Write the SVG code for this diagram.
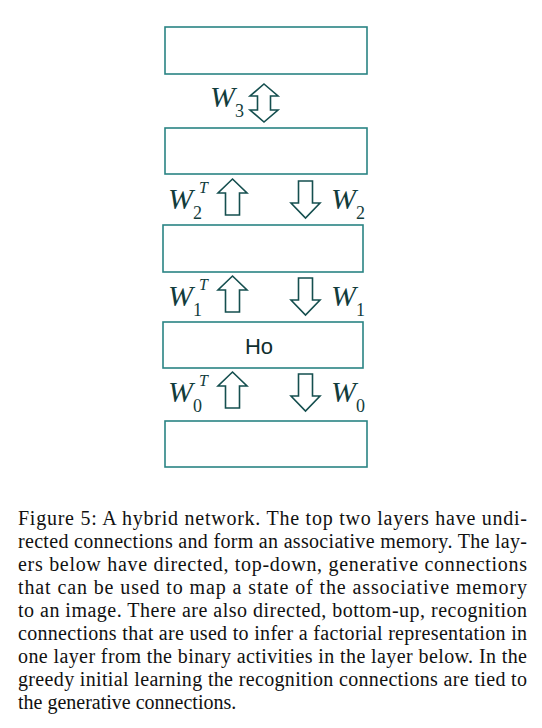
<svg xmlns="http://www.w3.org/2000/svg" width="542" height="728" viewBox="0 0 542 728">
<style>
.layer{fill:#fff;stroke:#2a8484;stroke-width:1.6}
.arr{fill:#fff;stroke:#154f4f;stroke-width:1.6;stroke-linejoin:miter}
.w{font-family:"Liberation Serif",serif;font-style:italic;font-size:30px;fill:#123c3c}
.sub{font-family:"Liberation Serif",serif;font-size:18px;fill:#123c3c}
.sup{font-family:"Liberation Serif",serif;font-style:italic;font-size:16px;fill:#123c3c}
.ho{font-family:"Liberation Sans",Arial,sans-serif;font-size:22px;fill:#0f2e2e}
.cap{font-family:"Liberation Serif",serif;font-size:20px;fill:#111}
</style>
<rect width="542" height="728" fill="#fff"/>
<g id="layer4"><rect class="layer" x="165" y="27" width="202" height="47"/></g>
<g id="layer3"><rect class="layer" x="165" y="128" width="202" height="46"/></g>
<g id="layer2"><rect class="layer" x="163" y="225" width="200" height="47"/></g>
<g id="layer1"><rect class="layer" x="163" y="322" width="200" height="46"/><text class="ho" x="259" y="354" text-anchor="middle">Ho</text></g>
<g id="layer0"><rect class="layer" x="165" y="421" width="202" height="46"/></g>
<g id="connectors">
<path class="arr" d="M264,84 L278,96 L270.5,96 L270.5,110 L278,110 L264,122 L250,110 L257.5,110 L257.5,96 L250,96 Z"/>
<text class="w" x="210" y="107">W</text><text class="sub" x="235" y="117">3</text>
<g id="row2">
<path class="arr" d="M232.5,179 L247,193 L239.5,193 L239.5,215 L225.5,215 L225.5,193 L218,193 Z"/>
<path class="arr" d="M298.5,181 L312.5,181 L312.5,203 L320,203 L305.5,218 L291,203 L298.5,203 Z"/>
<text class="w" x="168" y="209">W</text><text class="sub" x="193" y="219">2</text><text class="sup" x="199" y="193">T</text>
<text class="w" x="331" y="209">W</text><text class="sub" x="356" y="219">2</text>
</g>
<g id="row1" transform="translate(0,97)">
<path class="arr" d="M232.5,179 L247,193 L239.5,193 L239.5,215 L225.5,215 L225.5,193 L218,193 Z"/>
<path class="arr" d="M298.5,181 L312.5,181 L312.5,203 L320,203 L305.5,218 L291,203 L298.5,203 Z"/>
<text class="w" x="168" y="209">W</text><text class="sub" x="193" y="219">1</text><text class="sup" x="199" y="193">T</text>
<text class="w" x="331" y="209">W</text><text class="sub" x="356" y="219">1</text>
</g>
<g id="row0" transform="translate(0,193)">
<path class="arr" d="M232.5,179 L247,193 L239.5,193 L239.5,215 L225.5,215 L225.5,193 L218,193 Z"/>
<path class="arr" d="M298.5,181 L312.5,181 L312.5,203 L320,203 L305.5,218 L291,203 L298.5,203 Z"/>
<text class="w" x="168" y="209">W</text><text class="sub" x="193" y="219">0</text><text class="sup" x="199" y="193">T</text>
<text class="w" x="331" y="209">W</text><text class="sub" x="356" y="219">0</text>
</g>
</g>
<g id="caption" class="cap">
<text x="18" y="525" textLength="509" lengthAdjust="spacing">Figure 5: A hybrid network. The top two layers have undi-</text>
<text x="18" y="548" textLength="509" lengthAdjust="spacing">rected connections and form an associative memory. The lay-</text>
<text x="18" y="571" textLength="509" lengthAdjust="spacing">ers below have directed, top-down, generative connections</text>
<text x="18" y="594" textLength="509" lengthAdjust="spacing">that can be used to map a state of the associative memory</text>
<text x="18" y="617" textLength="509" lengthAdjust="spacing">to an image. There are also directed, bottom-up, recognition</text>
<text x="18" y="640" textLength="509" lengthAdjust="spacing">connections that are used to infer a factorial representation in</text>
<text x="18" y="663" textLength="509" lengthAdjust="spacing">one layer from the binary activities in the layer below. In the</text>
<text x="18" y="686" textLength="509" lengthAdjust="spacing">greedy initial learning the recognition connections are tied to</text>
<text x="18" y="709">the generative connections.</text>
</g>
</svg>
